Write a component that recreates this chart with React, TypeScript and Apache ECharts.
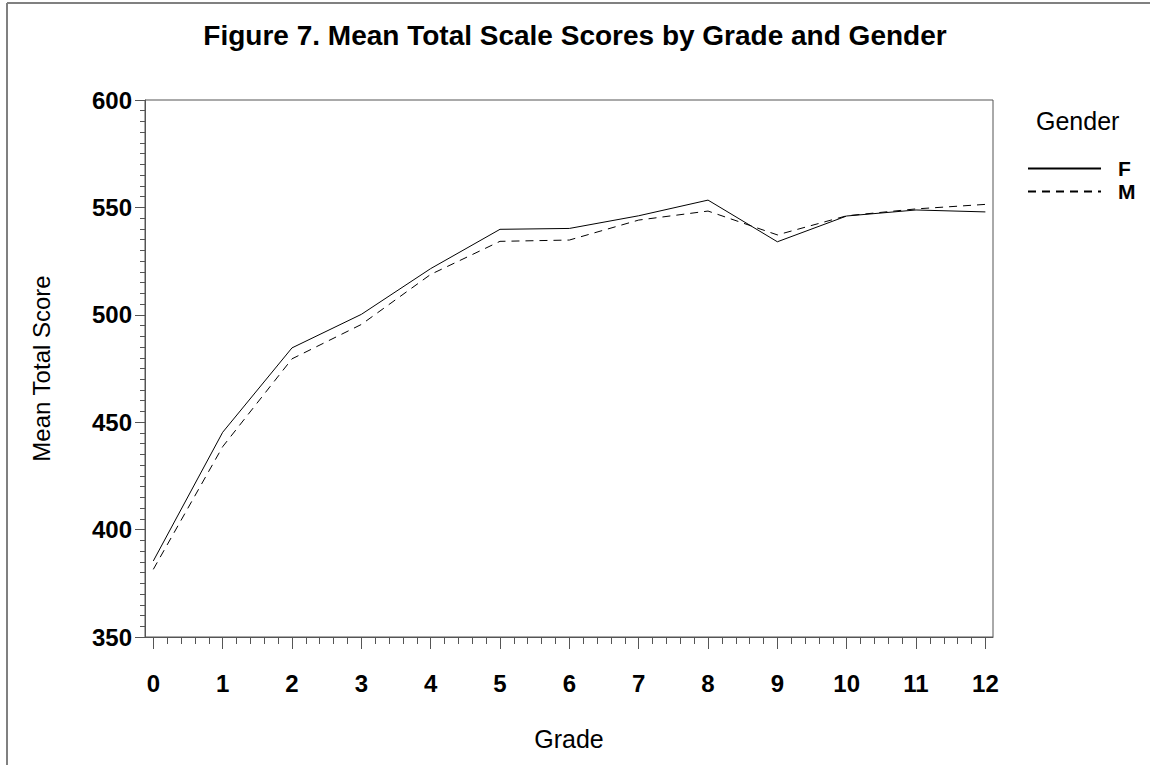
import React, { useEffect, useRef } from "react";
import * as echarts from "echarts";

const grades = [0, 1, 2, 3, 4, 5, 6, 7, 8, 9, 10, 11, 12];
const femaleScores = [385.4, 445.3, 484.6, 500.2, 521.5, 539.8, 540.2, 546.1, 553.4, 534.0, 546.0, 548.8, 547.9];
const maleScores = [381.5, 438.6, 479.5, 495.5, 518.8, 534.2, 534.8, 544.1, 548.3, 537.2, 546.1, 549.3, 551.4];
const xMinorTicks: number[] = [];
for (let g = 0; g < 12; g++) {
  for (let k = 1; k <= 4; k++) xMinorTicks.push(Math.round((g + k * 0.2) * 10) / 10);
}
const yTicks = [350, 400, 450, 500, 550, 600];

const FONT = "'Liberation Sans', Arial, Helvetica, sans-serif";

export default function App() {
  const ref = useRef<HTMLDivElement>(null);
  useEffect(() => {
    if (!ref.current) return;
    const chart = echarts.init(ref.current, undefined, { renderer: "svg" });
    chart.setOption({
      animation: false,
      backgroundColor: "#ffffff",
      textStyle: { fontFamily: FONT },
      title: [
        {
          text: "Figure 7. Mean Total Scale Scores by Grade and Gender",
          left: "center",
          top: 16,
          textStyle: { fontSize: 28, fontWeight: "bold", color: "#000", fontFamily: FONT },
        },
        {
          text: "Gender",
          left: 1031,
          top: 103,
          textStyle: { fontSize: 25, fontWeight: "normal", color: "#000", fontFamily: FONT },
        },
      ],
      legend: {
        data: ["F", "M"],
        orient: "vertical",
        left: 1022,
        top: 153,
        itemWidth: 73,
        itemHeight: 14,
        itemGap: 2,
        itemStyle: { opacity: 0 },
        textStyle: { fontSize: 21, fontWeight: "bold", color: "#000", lineHeight: 20, padding: [0, 0, 0, 12], fontFamily: FONT },
      },
      graphic: [
        { type: "line", shape: { x1: 7, y1: 3, x2: 7, y2: 765 }, style: { stroke: "#808080", lineWidth: 2 } },
        { type: "line", shape: { x1: 7, y1: 3, x2: 1150, y2: 3 }, style: { stroke: "#808080", lineWidth: 2 } },
      ],
      grid: {
        left: 145,
        top: 100,
        width: 848,
        height: 537,
        show: true,
        borderColor: "#555",
        borderWidth: 1,
        containLabel: false,
      },
      xAxis: [
        {
          type: "value",
          min: -0.12,
          max: 12.11,
          name: "Grade",
          nameLocation: "middle",
          nameGap: 89,
          nameTextStyle: { fontSize: 25, color: "#000", fontFamily: FONT },
          axisLine: { show: true, onZero: false, lineStyle: { color: "#555", width: 1 } },
          axisTick: { show: true, inside: false, customValues: grades, length: 12, lineStyle: { color: "#555" } },
          axisLabel: { show: true, customValues: grades, fontSize: 24, fontWeight: "bold", color: "#000", margin: 34, fontFamily: FONT },
          splitLine: { show: false },
        },
        {
          type: "value",
          min: -0.12,
          max: 12.11,
          position: "bottom",
          axisLine: { show: false, onZero: false },
          axisTick: { show: true, inside: false, customValues: xMinorTicks, length: 7, lineStyle: { color: "#555" } },
          axisLabel: { show: false },
          splitLine: { show: false },
        },
      ],
      yAxis: {
        type: "value",
        min: 350,
        max: 600,
        interval: 50,
        name: "Mean Total Score",
        nameLocation: "middle",
        nameGap: 92,
        nameRotate: 90,
        nameTextStyle: { fontSize: 24, color: "#000", fontFamily: FONT },
        axisLine: { show: true, onZero: false, lineStyle: { color: "#555", width: 1 } },
        axisTick: { show: true, inside: false, length: 10, lineStyle: { color: "#555" } },
        minorTick: { show: true, splitNumber: 10, length: 5, lineStyle: { color: "#555" } },
        axisLabel: { fontSize: 24, fontWeight: "bold", color: "#000", margin: 13, fontFamily: FONT, customValues: yTicks },
        splitLine: { show: false },
        minorSplitLine: { show: false },
      },
      series: [
        {
          name: "F",
          type: "line",
          xAxisIndex: 0,
          data: grades.map((g, i) => [g, femaleScores[i]]),
          symbol: "none",
          showSymbol: false,
          lineStyle: { color: "#000", width: 1, type: "solid" },
          itemStyle: { color: "#000" },
        },
        {
          name: "M",
          type: "line",
          xAxisIndex: 0,
          data: grades.map((g, i) => [g, maleScores[i]]),
          symbol: "none",
          showSymbol: false,
          lineStyle: { color: "#000", width: 1, type: [8, 6] },
          itemStyle: { color: "#000" },
        },
      ],
    });
    return () => chart.dispose();
  }, []);
  return (
    <div
      ref={ref}
      style={{ position: "fixed", left: 0, top: 0, width: 1150, height: 765, background: "#fff" }}
    />
  );
}
